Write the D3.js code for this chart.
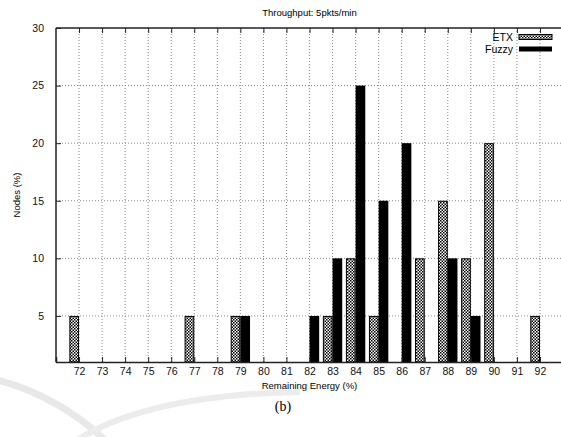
<!DOCTYPE html>
<meta charset="utf-8">
<script src="https://d3js.org/d3.v7.min.js"></script>
<style>
  body { margin: 0; background: #fff; }
  text { font-family: "Liberation Sans", Arial, sans-serif; }
</style>
<body>
<div id="chart"></div>
<script>
  // data
  const energy = d3.range(72, 93);          // x categories (%)
  const etx   = {72: 5, 77: 5, 79: 5, 83: 5, 84: 10, 85: 5, 87: 10, 88: 15, 89: 10, 90: 20, 92: 5};
  const fuzzy = {79: 5, 82: 5, 83: 10, 84: 25, 85: 15, 86: 20, 88: 10, 89: 5};
  const yTicks = [5, 10, 15, 20, 25, 30];
  const seriesNames = ["ETX", "Fuzzy"];

  const W = 561, H = 437;
  const margin = {top: 28, right: -2, bottom: 75, left: 56};
  const width = W - margin.left - margin.right,
        height = H - margin.top - margin.bottom;

  const svg = d3.select("#chart").append("svg")
      .attr("width", W).attr("height", H);

  // checker pattern for ETX
  const defs = svg.append("defs");
  const pat = defs.append("pattern")
      .attr("id", "checker").attr("patternUnits", "userSpaceOnUse")
      .attr("width", 3).attr("height", 3);
  pat.append("rect").attr("width", 3).attr("height", 3).attr("fill", "#fff");
  pat.append("rect").attr("width", 1.5).attr("height", 1.5).attr("fill", "#000");
  pat.append("rect").attr("x", 1.5).attr("y", 1.5).attr("width", 1.5).attr("height", 1.5).attr("fill", "#000");

  // faint background swooshes
  svg.append("path").attr("d", "M-10,378 Q60,395 110,445")
      .attr("fill", "none").attr("stroke", "#e8e8e8").attr("stroke-width", 7);
  svg.append("path").attr("d", "M70,445 Q140,395 300,392")
      .attr("fill", "none").attr("stroke", "#ececec").attr("stroke-width", 6);

  const g = svg.append("g").attr("transform", `translate(${margin.left},${margin.top})`);

  const x = d3.scaleLinear().domain([71, 93]).range([0, width]);
  const y = d3.scaleLinear().domain([1, 30]).range([height, 0]);
  const step = x(1) - x(0);
  const bw = step * 0.42;

  // grid
  g.append("g").selectAll("line").data(energy).join("line")
      .attr("x1", d => x(d)).attr("x2", d => x(d))
      .attr("y1", 0).attr("y2", height)
      .attr("stroke", "#888").attr("stroke-width", 1).attr("stroke-dasharray", "1,2");
  g.append("g").selectAll("line").data(yTicks.filter(d => d < 30)).join("line")
      .attr("x1", 0).attr("x2", width)
      .attr("y1", d => y(d)).attr("y2", d => y(d))
      .attr("stroke", "#888").attr("stroke-width", 1).attr("stroke-dasharray", "1,2");

  // bars
  const etxData = energy.filter(d => etx[d]).map(d => ({k: d, v: etx[d]}));
  const fzData = energy.filter(d => fuzzy[d]).map(d => ({k: d, v: fuzzy[d]}));

  g.append("g").selectAll("rect").data(etxData).join("rect")
      .attr("x", d => x(d.k) - bw + 0.5).attr("width", bw - 1)
      .attr("y", d => y(d.v) + 0.5).attr("height", d => height - y(d.v) - 0.5)
      .attr("fill", "url(#checker)").attr("stroke", "#000").attr("stroke-width", 1);
  g.append("g").selectAll("rect").data(fzData).join("rect")
      .attr("x", d => x(d.k)).attr("width", bw)
      .attr("y", d => y(d.v)).attr("height", d => height - y(d.v))
      .attr("fill", "#000");

  // axes
  const xAxis = d3.axisBottom(x).tickValues(energy).tickSize(-5).tickPadding(6);
  const yAxis = d3.axisLeft(y).tickValues(yTicks).tickSize(-5).tickPadding(12);
  const xa = g.append("g").attr("transform", `translate(0,${height})`).call(xAxis);
  const ya = g.append("g").call(yAxis);
  const xt = g.append("g").call(d3.axisTop(x).tickValues(energy).tickSize(-5).tickFormat(""));
  [xa, ya, xt].forEach(a => {
    a.select(".domain").attr("stroke", "#222").attr("stroke-width", 1.5);
    a.selectAll(".tick line").attr("stroke", "#222");
    a.selectAll("text").attr("font-size", 10.5).attr("fill", "#111")
      .attr("font-family", "'Liberation Sans', Arial, sans-serif");
  });
  ya.select(".domain").attr("d", `M0,${height}V0`);
  xt.select(".domain").attr("d", `M0,0H${width}`);

  // titles
  svg.append("text").attr("x", margin.left + width / 2).attr("y", 16)
      .attr("text-anchor", "middle").attr("font-size", 9.5).text("Throughput: 5pkts/min");
  svg.append("text").attr("x", margin.left + width / 2).attr("y", 389)
      .attr("text-anchor", "middle").attr("font-size", 9.5).text("Remaining Energy (%)");
  svg.append("text").attr("transform", `translate(20,${margin.top + height / 2}) rotate(-90)`)
      .attr("text-anchor", "middle").attr("font-size", 9.5).text("Nodes (%)");
  svg.append("text").attr("x", 283).attr("y", 411)
      .attr("text-anchor", "middle").attr("font-size", 14)
      .style("font-family", "'Liberation Serif', 'Times New Roman', serif").text("(b)");

  // legend
  const leg = svg.append("g").attr("transform", "translate(513,37)");
  seriesNames.forEach((name, i) => {
    const row = leg.append("g").attr("transform", `translate(0,${i * 12})`);
    row.append("text").attr("x", 0).attr("y", 3.5).attr("text-anchor", "end")
        .attr("font-size", 10.5).text(name);
    row.append("rect").attr("x", 6).attr("y", -2.5).attr("width", 33).attr("height", 5)
        .attr("fill", i === 0 ? "url(#checker)" : "#000")
        .attr("stroke", "#000").attr("stroke-width", i === 0 ? 1 : 0);
  });
</script>
</body>
